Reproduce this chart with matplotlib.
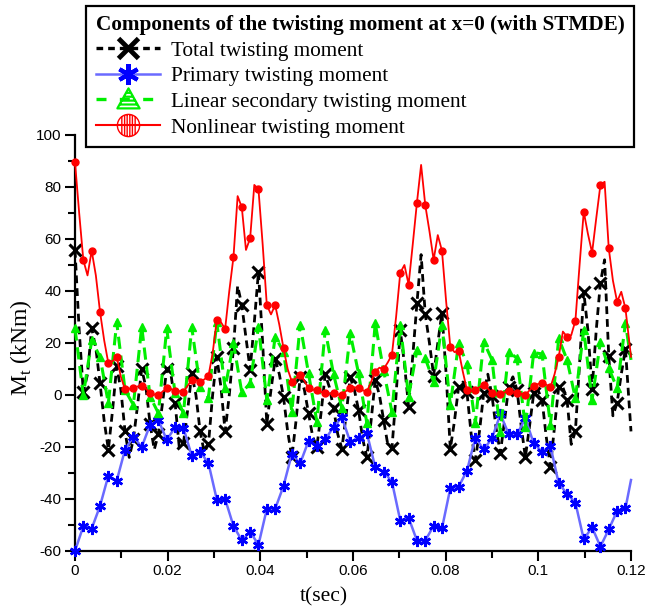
import numpy as np
import matplotlib.pyplot as plt
from matplotlib.lines import Line2D
from matplotlib.path import Path

plt.rcParams['axes.unicode_minus'] = False
plt.rcParams['mathtext.fontset'] = 'custom'
plt.rcParams['mathtext.rm'] = 'Liberation Serif'

# markers sit every 0.0018 s, the lines run on to 0.12 s
t_step = 0.0018
n_mark = 67
t_end = 0.12

# values at the marker times (kNm)
total_mark = [55.8, 1, 25.6, 4.5, -21, 11, -14, -17, 10, -11,
              -15, 10, -3, -18.6, 8.3, -14, -19, 14.7, -14, 18,
              34.6, 9.8, 47.4, -11, 13.8, -0.8, -24, 7, -7, -20,
              8, -5, -20.6, 6.8, -5.8, -24, 5.8, -9.6, -20.5, 25,
              -4.5, 35.3, 31, 7.5, 31.7, -20.7, 3.2, 1, -25, 0.6,
              -0.3, -22.3, 3.2, 2, -24, 0.6, -1.8, -27.5, 3.2, -1.9,
              -13.9, 39.7, 2.2, 43.2, 15, -3, 17.8]
# values read half way between markers
total_mid = [25, 8, 18, -10, -6, 2, -24, -4, 3, -21,
             -3, 8, -20, -6, 0, -22, 0, 3, 0, 42,
             22, 28, 20, 2, 8, -14, -10, 2, -16, -7,
             3, -15, -8, 2, -17, -10, 0, -19, 0, 12,
             15, 54, 20, 20, 8, -10, 5, -15, -14, 8,
             -13, -10, 7, -12, -12, 2, -16, -12, 3, -19,
             12, 25, 25, 52, -8, 8]
total_end = -14

primary = [-60, -50.4, -51.4, -42.7, -31, -33, -21, -16, -20, -11.5,
           -9.6, -17.3, -12.4, -12.5, -23.5, -21.8, -26.2, -40.2, -40, -50.4,
           -55.9, -52.6, -57.6, -43.8, -43.8, -35, -22.7, -26.3, -17.7, -19.6,
           -17, -12.4, -8.6, -18, -16.5, -14.7, -27.8, -29.5, -33.3, -48.3,
           -47.2, -56, -56, -50.3, -51.3, -35.9, -35.3, -29.1, -16.4, -20.9,
           -16.7, -7.4, -15, -15.1, -9, -18.6, -21.8, -19.6, -34, -38,
           -41.4, -55.5, -50.9, -58.3, -51.7, -44.6, -43.6]
primary_end = -32.7

secondary = [25.6, 0, 21, 14.7, -3.2, 28, 1.9, -3.8, 26.3, -0.6,
             -7, 25.6, 0.6, -7, 26, 3, -1, 28, 2.6, 20,
             1, 4.5, 26.3, -1.9, 22.4, 16.7, -6.4, 27, 8.3, -10.3,
             25, 8, -5.1, 23.7, 8.3, -10.9, 27.6, 9.4, -6.4, 27,
             -0.6, 17.3, 14.1, 5.1, 27, -3.8, 19.9, 12, -10.9, 20.5,
             13.5, -14.1, 16.7, 14.1, -12.2, 16.3, 15.8, -11.5, 21.8, 13.5,
             -1.3, 25, -1.9, 20.5, 10.3, 2.6, 27.6]
secondary_end = 13.5

nonlin_mark = [89.5, 51.9, 55.5, 32, 12.2, 14.7, 2.2, 2.6, 3.5, 0.6,
               0, 2.6, 1.7, 1.3, 5.8, 5.1, 7.3, 28.8, 25.4, 53,
               72.2, 60.3, 79.1, 34.6, 34.6, 18, 5.1, 7.7, 2.6, 1.9,
               0.6, 0.6, 0, 2.6, 2.6, 1.3, 9, 10, 15.5, 47,
               42.5, 74, 73, 52, 55.5, 18.6, 17, 1.9, 1.9, 3.8,
               0.6, 0.3, 1.7, 0.9, 0, 3.5, 4.7, 2.9, 14.7, 22.4,
               28.6, 70.5, 54.7, 80.8, 56.4, 35.9, 33.3]
nonlin_mid = [70, 46, 46, 21, 13, 7, 2.4, 3.3, 2.5, 0.2,
              1.3, 2.3, 1.5, 3.5, 5.8, 6, 16, 28, 40, 76.5,
              55.8, 80.8, 58, 31, 27, 10, 6.5, 5.5, 2, 1.2,
              0.5, 0.2, 1.5, 3, 1.8, 5, 10.5, 12.5, 30, 50,
              58, 88.5, 63, 61.5, 36, 16.5, 9, 1.5, 3, 2.5,
              0.2, 1, 1.3, 0.4, 1.8, 4.2, 4, 8, 24.4, 23,
              50, 62, 68, 82, 44, 39.7]
nonlin_end = 14.7

labels = ['Total twisting moment', 'Primary twisting moment',
          'Linear secondary twisting moment', 'Nonlinear twisting moment']
legend_title = 'Components of the twisting moment at x=0 (with STMDE)'


def weave(marks, mids, end):
    y = []
    for i, m in enumerate(marks):
        y.append(m)
        if i < len(mids):
            y.append(mids[i])
    y.append(end)
    return y


t_mark = np.append(np.arange(n_mark) * t_step, t_end)
t_half = np.append(np.arange(2 * n_mark - 1) * t_step / 2, t_end)
total = weave(total_mark, total_mid, total_end)
nonlin = weave(nonlin_mark, nonlin_mid, nonlin_end)
primary_y = primary + [primary_end]
secondary_y = secondary + [secondary_end]

# circle with vertical bars / triangle with stripes for the legend
circ = Path.unit_circle()
bars = []
for x in [-0.6, -0.35, -0.12, 0.12, 0.35, 0.6]:
    h = np.sqrt(1 - x * x)
    bars.append(Path([(x, -h), (x, h)], [Path.MOVETO, Path.LINETO]))
circ_bars = Path.make_compound_path(circ, *bars)
tri = Path([(-1, -0.8), (1, -0.8), (0, 1), (-1, -0.8)],
           [Path.MOVETO, Path.LINETO, Path.LINETO, Path.CLOSEPOLY])
stripes = []
for yy in [-0.45, -0.1, 0.25, 0.6]:
    hw = (1 - yy) / 1.8
    stripes.append(Path([(-hw, yy), (hw, yy)], [Path.MOVETO, Path.LINETO]))
tri_stripes = Path.make_compound_path(tri, *stripes)

fig = plt.figure(figsize=(6.5, 6.1), dpi=100)
ax = fig.add_axes([75 / 650, 59 / 610, 556 / 650, 416 / 610])

ax.plot(t_half, total, color='black', lw=2, dashes=(2.8, 1.8),
        marker='x', markersize=8, mew=2.2, markevery=slice(0, 2 * n_mark - 1, 2),
        clip_on=False, zorder=3)
ax.plot(t_mark, primary_y, color='#6a6aff', lw=1.8,
        marker=(6, 2, 0), markersize=8, mew=1.8, mec='#0000ff',
        markevery=slice(0, n_mark), clip_on=False, zorder=4)
ax.plot(t_mark, secondary_y, color='#00ee00', lw=2.2, dashes=(4, 2.2),
        marker='^', markersize=6, mfc='#00ee00', mec='#00ee00',
        markevery=slice(0, n_mark), clip_on=False, zorder=5)
ax.plot(t_half, nonlin, color='#ff0000', lw=1.3,
        marker='o', markersize=5, mfc='#ff0000', mec='#ff0000',
        markevery=slice(0, 2 * n_mark - 1, 2), clip_on=False, zorder=6)

ax.set_xlim(0, 0.12)
ax.set_ylim(-60, 100)
ax.set_xticks([0, 0.02, 0.04, 0.06, 0.08, 0.1, 0.12])
ax.set_xticklabels(['0', '0.02', '0.04', '0.06', '0.08', '0.1', '0.12'])
ax.set_xticks(np.arange(0.01, 0.12, 0.02), minor=True)
ax.set_yticks(np.arange(-60, 101, 20))
ax.set_yticks(np.arange(-50, 100, 20), minor=True)
ax.tick_params(which='major', direction='out', length=7.2, width=1.5,
               labelsize=11, pad=2.5)
ax.tick_params(which='minor', direction='out', length=5, width=1.5)
for lab in ax.get_xticklabels() + ax.get_yticklabels():
    lab.set_fontfamily('Liberation Sans')

ax.spines['top'].set_visible(False)
ax.spines['right'].set_visible(False)
ax.spines['left'].set_linewidth(1.6)
ax.spines['bottom'].set_linewidth(1.6)

ax.set_xlabel('t(sec)', family='Liberation Serif', fontsize=15.5)
ax.set_ylabel(r'M$_\mathregular{t}$ (kNm)', family='Liberation Serif', fontsize=17)
ax.xaxis.set_label_coords(0.448, -0.086)
ax.yaxis.set_label_coords(-0.074, 0.489)

handles = [
    Line2D([], [], color='black', lw=2.4, dashes=(2, 1.5), marker='x',
           markersize=14, mew=3.5),
    Line2D([], [], color='#6a6aff', lw=1.8, marker=(6, 2, 0),
           markersize=15, mew=3, mec='#0000ff'),
    Line2D([], [], color='#00ee00', lw=2.4, dashes=(3, 4), marker=tri_stripes,
           markersize=16, mew=1.6, mfc='none', mec='#00ee00'),
    Line2D([], [], color='#ff0000', lw=1.5, marker=circ_bars,
           markersize=16, mew=1, mfc='none', mec='#ff0000'),
]
leg = fig.legend(handles, labels, loc='upper left',
                 bbox_to_anchor=(86 / 650, 1 - 5.5 / 610),
                 prop={'family': 'Liberation Serif', 'size': 15.3},
                 title=legend_title,
                 title_fontproperties={'family': 'Liberation Serif', 'size': 15.3,
                                       'weight': 'bold'},
                 alignment='left', frameon=True, fancybox=False, framealpha=1,
                 edgecolor='black', borderpad=0.45, labelspacing=0.27,
                 handlelength=3.05, handletextpad=0.5, borderaxespad=0)
leg.get_frame().set_linewidth(1.6)

fig.savefig('out.png', dpi=100)
